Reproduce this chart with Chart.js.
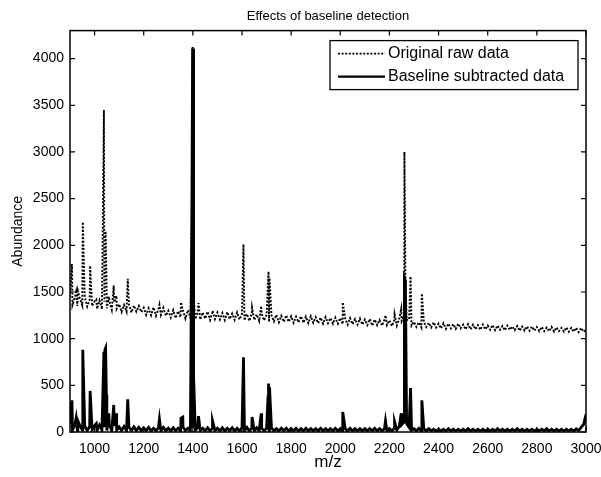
<!DOCTYPE html>
<html lang="en">
<head>
    <meta charset="UTF-8">
    <title>Effects of baseline detection</title>
    <script src="https://cdn.jsdelivr.net/npm/chart.js"></script>
    <style>
        html, body { margin: 0; padding: 0; background: #fff; }
        canvas { display: block; }
    </style>
</head>
<body>
    <canvas id="spectrum" width="601" height="477"></canvas>

    <script>
        // spectrum is sampled every 10 m/z from 900 up to 3000
        const gridStart = 900;
        const gridStep = 10;

        // raw intensity along the sampling grid (one row per 100 m/z)
        const rawBaseline = [
            1450, 1360, 1440, 1350, 1430, 1355, 1445, 1345, 1420, 1350,
            1400, 1320, 1410, 1315, 1395, 1325, 1405, 1310, 1390, 1320,
            1370, 1285, 1360, 1290, 1365, 1280, 1355, 1290, 1350, 1285,
            1330, 1255, 1325, 1250, 1335, 1245, 1320, 1255, 1330, 1245,
            1300, 1225, 1305, 1220, 1295, 1230, 1300, 1215, 1305, 1225,
            1290, 1210, 1285, 1205, 1280, 1215, 1290, 1200, 1285, 1210,
            1280, 1205, 1275, 1200, 1285, 1210, 1270, 1200, 1280, 1205,
            1270, 1195, 1265, 1190, 1270, 1200, 1260, 1190, 1265, 1195,
            1255, 1180, 1250, 1185, 1255, 1175, 1245, 1180, 1250, 1180,
            1240, 1170, 1235, 1175, 1240, 1170, 1235, 1165, 1240, 1170,
            1230, 1165, 1225, 1160, 1230, 1165, 1220, 1160, 1225, 1160,
            1220, 1155, 1215, 1150, 1220, 1155, 1210, 1150, 1215, 1150,
            1205, 1145, 1210, 1140, 1205, 1145, 1200, 1140, 1205, 1145,
            1195, 1135, 1200, 1140, 1215, 1190, 1250, 1200, 1205, 1140,
            1180, 1125, 1175, 1120, 1180, 1125, 1170, 1120, 1175, 1120,
            1160, 1110, 1165, 1105, 1160, 1110, 1155, 1105, 1160, 1110,
            1150, 1100, 1155, 1100, 1150, 1100, 1145, 1095, 1150, 1100,
            1140, 1095, 1145, 1090, 1140, 1095, 1135, 1090, 1140, 1095,
            1130, 1090, 1135, 1085, 1130, 1085, 1130, 1085, 1130, 1085,
            1125, 1080, 1125, 1080, 1120, 1080, 1125, 1075, 1120, 1080,
            1115, 1075, 1120, 1075, 1115, 1075, 1115, 1070, 1115, 1075,
            1095
        ];

        // intensity after baseline subtraction, same grid
        const subBaseline = [
            90, 20, 80, 15, 70, 20, 65, 15, 60, 20,
            70, 15, 75, 20, 65, 15, 80, 15, 65, 20,
            55, 15, 60, 15, 50, 15, 55, 15, 50, 15,
            45, 15, 50, 12, 40, 15, 45, 12, 50, 15,
            40, 12, 45, 15, 40, 12, 50, 15, 40, 12,
            45, 12, 50, 15, 40, 12, 45, 12, 40, 15,
            40, 12, 45, 12, 40, 15, 45, 12, 40, 12,
            45, 15, 50, 12, 40, 12, 45, 15, 40, 12,
            40, 12, 45, 12, 35, 12, 40, 15, 40, 12,
            35, 12, 40, 12, 35, 12, 40, 12, 35, 12,
            35, 12, 40, 12, 35, 12, 35, 12, 40, 12,
            35, 12, 35, 12, 40, 12, 35, 12, 35, 12,
            35, 12, 35, 12, 40, 12, 35, 12, 35, 12,
            35, 12, 40, 20, 60, 80, 110, 90, 50, 20,
            35, 12, 40, 12, 35, 12, 35, 12, 30, 10,
            30, 10, 30, 10, 35, 10, 30, 10, 30, 10,
            30, 10, 35, 10, 30, 10, 30, 10, 30, 10,
            30, 10, 30, 10, 35, 10, 30, 10, 30, 10,
            30, 10, 35, 10, 30, 10, 30, 10, 30, 10,
            30, 10, 30, 10, 35, 10, 30, 10, 30, 10,
            30, 10, 30, 10, 30, 10, 35, 15, 50, 80,
            190
        ];

        // peak positions and heights
        const peakMz  = [908, 925, 932, 952, 982, 1007, 1038, 1042, 1045, 1048,
                         1058, 1078, 1089, 1135, 1264, 1352, 1359, 1396, 1399, 1401,
                         1403, 1423, 1480, 1606, 1641, 1678, 1706, 1708, 1712, 2010,
                         2184, 2221, 2248, 2261, 2265, 2286, 2332];
        const peakRaw = [1800, 1500, 1510, 2250, 1780, 1420, 3450, 2100, 2150, 1700,
                         1450, 1570, 1460, 1640, 1365, 1390, 1300, 2360, 4125, 4120,
                         1450, 1380, 1300, 2010, 1330, 1350, 1600, 1720, 1650, 1390,
                         1250, 1260, 1320, 3000, 1650, 1667, 1483];
        const peakSub = [340, 150, 120, 880, 440, 90, 860, 880, 900, 400,
                         200, 290, 200, 350, 140, 150, 160, 2360, 4110, 4105,
                         600, 170, 120, 800, 160, 200, 380, 520, 480, 215,
                         120, 110, 200, 1650, 1620, 470, 340];

        const xTicks = [1000, 1200, 1400, 1600, 1800, 2000, 2200, 2400, 2600, 2800, 3000];
        const yTicks = [0, 500, 1000, 1500, 2000, 2500, 3000, 3500, 4000];

        // merge grid readings with the peaks into one sorted trace
        function buildSeries(gridValues, peakValues) {
            const pts = gridValues.map((v, i) => ({ x: gridStart + i * gridStep, y: v }));
            peakMz.forEach((mz, i) => pts.push({ x: mz, y: peakValues[i] }));
            return pts.sort((a, b) => a.x - b.x);
        }

        Chart.defaults.font.family = '"Liberation Sans", Arial, Helvetica, sans-serif';
        Chart.defaults.color = '#000';

        // closed axes box with inward ticks on all four sides
        const axesBox = {
            id: 'axesBox',
            afterDatasetsDraw(chart) {
                const { ctx, chartArea: a, scales } = chart;
                const len = 5;
                ctx.save();
                ctx.strokeStyle = '#000';
                ctx.lineWidth = 1.5;
                ctx.strokeRect(a.left, a.top, a.right - a.left, a.bottom - a.top);
                ctx.lineWidth = 1.2;
                ctx.beginPath();
                xTicks.forEach(v => {
                    const px = scales.x.getPixelForValue(v);
                    ctx.moveTo(px, a.bottom); ctx.lineTo(px, a.bottom - len);
                    ctx.moveTo(px, a.top); ctx.lineTo(px, a.top + len);
                });
                yTicks.forEach(v => {
                    const py = scales.y.getPixelForValue(v);
                    ctx.moveTo(a.left, py); ctx.lineTo(a.left + len, py);
                    ctx.moveTo(a.right, py); ctx.lineTo(a.right - len, py);
                });
                ctx.stroke();
                ctx.restore();
            }
        };

        // boxed legend in the upper right corner of the axes
        const boxedLegend = {
            id: 'boxedLegend',
            afterDraw(chart) {
                const { ctx, chartArea: a } = chart;
                const w = 248, h = 49;
                const left = a.right - 8 - w;
                const top = a.top + 10;
                ctx.save();
                ctx.fillStyle = '#fff';
                ctx.fillRect(left, top, w, h);
                ctx.strokeStyle = '#000';
                ctx.lineWidth = 1.3;
                ctx.strokeRect(left, top, w, h);
                ctx.font = '16px "Liberation Sans", Arial, sans-serif';
                ctx.textBaseline = 'middle';
                ctx.fillStyle = '#000';
                chart.data.datasets.forEach((ds, i) => {
                    const y = top + 13 + i * 23;
                    ctx.beginPath();
                    ctx.setLineDash(ds.borderDash || []);
                    ctx.lineWidth = Math.min(ds.borderWidth, 2.2);
                    ctx.moveTo(left + 8, y);
                    ctx.lineTo(left + 55, y);
                    ctx.stroke();
                    ctx.setLineDash([]);
                    ctx.fillText(ds.label, left + 58, y);
                });
                ctx.restore();
            }
        };

        new Chart(document.getElementById('spectrum'), {
            type: 'line',
            data: {
                datasets: [
                    {
                        label: 'Original raw data',
                        data: buildSeries(rawBaseline, peakRaw),
                        borderColor: '#000',
                        borderWidth: 1.9,
                        borderDash: [2, 1.6],
                        pointRadius: 0,
                        tension: 0,
                        order: 2
                    },
                    {
                        label: 'Baseline subtracted data',
                        data: buildSeries(subBaseline, peakSub),
                        borderColor: '#000',
                        borderWidth: 2.8,
                        pointRadius: 0,
                        tension: 0,
                        order: 1
                    }
                ]
            },
            options: {
                responsive: false,
                animation: false,
                layout: { padding: 0 },
                plugins: {
                    legend: { display: false },
                    tooltip: { enabled: false },
                    title: {
                        display: true,
                        text: 'Effects of baseline detection',
                        fullSize: false,
                        font: { size: 13, weight: 'normal' },
                        padding: { top: 9, bottom: 6 }
                    }
                },
                scales: {
                    x: {
                        type: 'linear',
                        min: 900,
                        max: 3000,
                        grid: { display: false, drawTicks: false },
                        border: { display: false },
                        afterBuildTicks: s => { s.ticks = xTicks.map(v => ({ value: v })); },
                        afterFit: s => {
                            s.height = 45;
                            // room for the overhanging "3000" label only
                            s.paddingLeft = 0;
                            s.paddingRight = 15;
                        },
                        ticks: {
                            font: { size: 14 }, padding: 9, maxRotation: 0, autoSkip: false,
                            callback: v => String(v)
                        },
                        title: {
                            display: true,
                            text: 'm/z',
                            font: { size: 17 },
                            padding: { top: 0, bottom: 4 }
                        }
                    },
                    y: {
                        min: 0,
                        max: 4300,
                        grid: { display: false, drawTicks: false },
                        border: { display: false },
                        afterBuildTicks: s => { s.ticks = yTicks.map(v => ({ value: v })); },
                        afterFit: s => { s.width = 70; },
                        ticks: { font: { size: 14 }, padding: 6, callback: v => String(v) },
                        title: {
                            display: true,
                            text: 'Abundance',
                            font: { size: 14 },
                            padding: { top: 10, bottom: 0 }
                        }
                    }
                }
            },
            plugins: [axesBox, boxedLegend]
        });
    </script>
</body>
</html>
